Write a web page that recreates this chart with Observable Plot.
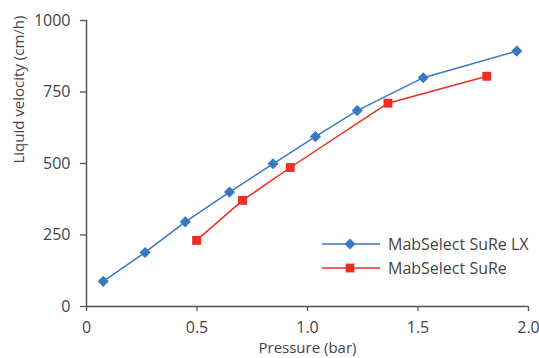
<!DOCTYPE html>
<html><head><meta charset="utf-8">
<script src="https://cdn.jsdelivr.net/npm/d3@7"></script>
<script src="https://cdn.jsdelivr.net/npm/@observablehq/plot@0.6"></script>
<style>
body{margin:0;background:#fff}
#c{position:relative;width:539px;height:358px;overflow:hidden}
#c svg{font-family:"Open Sans",sans-serif}
</style>
</head><body><div id="c"></div>
<script>
const seriesNames = ["MabSelect SuRe LX", "MabSelect SuRe"];
const lxPressure = [0.076, 0.265, 0.447, 0.647, 0.844, 1.036, 1.225, 1.524, 1.947];
const lxVelocity = [88, 189, 296, 400, 499, 594, 685, 800, 893];
const surePressure = [0.498, 0.706, 0.922, 1.364, 1.811];
const sureVelocity = [231, 371, 486, 711, 805];
const xTicks = [0, 0.5, 1.0, 1.5, 2.0];
const yTicks = [0, 250, 500, 750, 1000];
const xLabel = "Pressure (bar)";
const yLabel = "Liquid velocity (cm/h)";
const colors = ["#3a78c2", "#ee2d25"];
const symbols = ["diamond2", "square"];

const data = [
  ...lxPressure.map((p, i) => ({series: seriesNames[0], p, v: lxVelocity[i]})),
  ...surePressure.map((p, i) => ({series: seriesNames[1], p, v: sureVelocity[i]}))
];

const axisColor = "#555";
const textColor = "#444";

const chart = Plot.plot({
  width: 539,
  height: 358,
  marginLeft: 86,
  marginRight: 11,
  marginTop: 20,
  marginBottom: 52,
  style: {fontSize: "16px", color: textColor, background: "#fff"},
  x: {domain: [0, 2]},
  y: {domain: [0, 1000]},
  color: {domain: seriesNames, range: colors},
  symbol: {domain: seriesNames, range: symbols},
  marks: [
    Plot.axisX({ticks: xTicks, tickSize: 5, tickPadding: 10, stroke: axisColor, strokeWidth: 1.3,
      tickFormat: d => d === 0 ? "0" : d.toFixed(1), fill: textColor, label: null}),
    Plot.axisY({ticks: yTicks, tickSize: 6, tickPadding: 10, stroke: axisColor, strokeWidth: 1.3,
      tickFormat: d => String(d), fill: textColor, label: null}),
    Plot.text([xLabel], {frameAnchor: "bottom", lineAnchor: "top", dy: 36, fontSize: 15, fill: textColor}),
    Plot.text([yLabel], {frameAnchor: "left", rotate: -90, dx: -67, fontSize: 15, fill: textColor}),
    Plot.ruleX([0], {stroke: axisColor, strokeWidth: 1.5}),
    Plot.ruleY([0], {stroke: axisColor, strokeWidth: 1.5}),
    Plot.line(data, {x: "p", y: "v", z: "series", stroke: "series", strokeWidth: 1.5}),
    Plot.dot(data, {x: "p", y: "v", symbol: "series", fill: "series", stroke: "none", r: 5})
  ]
});
const c = document.getElementById("c");
c.appendChild(chart);

// legend overlay
const leg = d3.select(c).append("svg")
  .attr("width", 230).attr("height", 60)
  .style("position", "absolute").style("left", "310px").style("top", "225px")
  .style("font-family", '"Open Sans",sans-serif');
seriesNames.forEach((name, i) => {
  const g = leg.append("g").attr("transform", `translate(0,${19 + i * 24})`);
  g.append("line").attr("x1", 12).attr("x2", 70).attr("stroke", colors[i]).attr("stroke-width", 1.5);
  const sym = i === 0 ? d3.symbolDiamond2 : d3.symbolSquare;
  g.append("path").attr("d", d3.symbol(sym, Math.PI * 25)()).attr("transform", "translate(40,0)").attr("fill", colors[i]);
  g.append("text").attr("x", 78).attr("dy", "0.35em").attr("font-size", 16).attr("fill", textColor).text(name);
});
</script>
</body></html>
